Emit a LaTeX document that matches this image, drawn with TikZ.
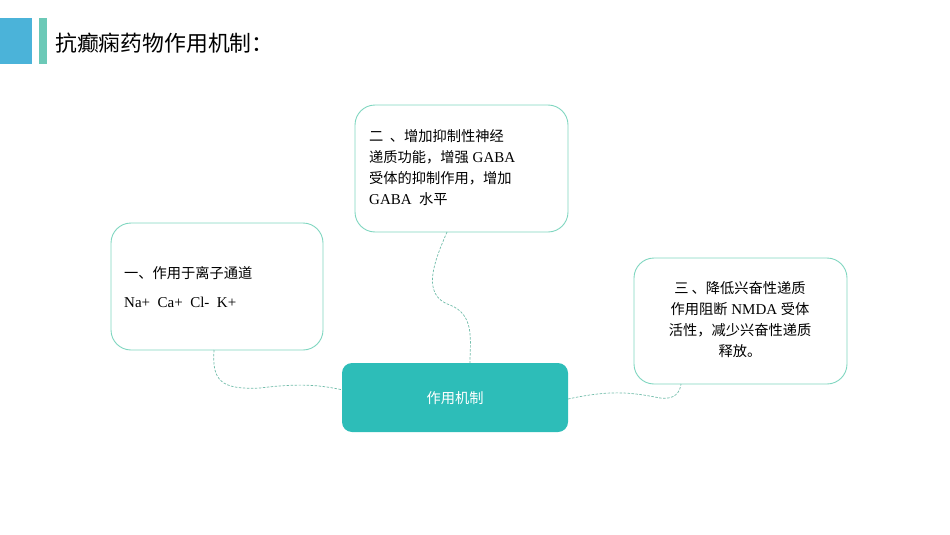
\documentclass[tikz,border=0pt]{standalone}
\usepackage{fontspec}
\setmainfont{Liberation Serif}
\newfontfamily\cjk{Noto Sans CJK SC}[Scale=0.95]
\definecolor{bdr}{HTML}{7FD6C0}
\definecolor{ctr}{HTML}{2DBDB8}
\definecolor{blu}{HTML}{4BB3D9}
\definecolor{tbar}{HTML}{6CC9B7}
\begin{document}
\begin{tikzpicture}[x=1pt,y=-1pt,
  box/.style={draw=bdr,line width=0.9pt,rounded corners=20pt,fill=white},
  conn/.style={draw=bdr!80!black!60!bdr,dashed,dash pattern=on 2.5pt off 1.5pt,line width=0.7pt},
  txt/.style={font=\fontsize{15}{21}\selectfont,inner sep=0pt}]
\useasboundingbox (0,0) rectangle (950,535);
\fill[blu] (0,18) rectangle (32,64);
\fill[tbar] (39,18) rectangle (47,64);
\node[anchor=west,font=\cjk\fontsize{23}{26}\selectfont,inner sep=0pt] (title) at (55,43) {抗癫痫药物作用机制：};
% boxes
\draw[box] (111,223) rectangle (323,350);
\draw[box] (355,105) rectangle (568,232);
\draw[box] (634,258) rectangle (847,384);
\fill[ctr,rounded corners=10pt] (342,363) rectangle (568,432);
\coordinate (b1) at (214,350); \coordinate (c1) at (343,390);
\coordinate (b2) at (447,232); \coordinate (c2) at (470,363);
\coordinate (c3) at (568,399); \coordinate (b3) at (681,384);
\draw[conn] (b1) .. controls (212,380) and (220,390) .. (260,388) .. controls (300,383) and (320,385) .. (c1);
\draw[conn] (b2) .. controls (435,260) and (420,295) .. (450,305) .. controls (475,315) and (470,340) .. (c2);
\draw[conn] (c3) .. controls (610,390) and (630,392) .. (660,398) .. controls (675,400) and (680,392) .. (b3);
\node[font=\cjk\fontsize{15}{18}\selectfont,text=white] (cn) at (455,398) {作用机制};
% texts
\node[txt,anchor=west] (t1a) at (124,273) {\cjk 一、作用于离子通道};
\node[txt,anchor=west] (t1b) at (124,302) {Na+\ \ Ca+\ \ Cl-\ \ K+};
\node[txt,anchor=north west,align=left] (t2) at (369,129) {{\cjk 二\ \ 、增加抑制性神经}\\{\cjk 递质功能，增强} GABA\\{\cjk 受体的抑制作用，增加}\\GABA\ \ {\cjk 水平}};
\node[txt,anchor=north,align=center] (t3) at (740,281) {{\cjk 三\ 、降低兴奋性递质}\\{\cjk 作用阻断} NMDA\ {\cjk 受体}\\{\cjk 活性，减少兴奋性递质}\\{\cjk 释放。}};
\end{tikzpicture}
\end{document}
